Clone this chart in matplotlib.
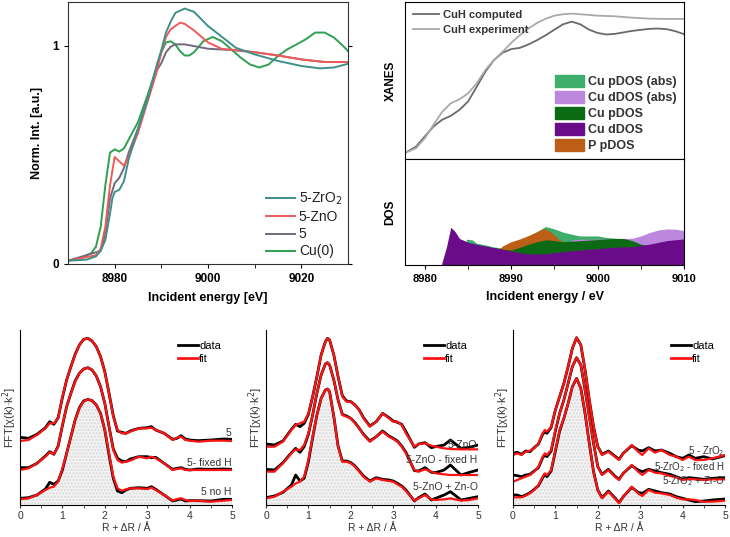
import numpy as np
import matplotlib
matplotlib.use("Agg")
import matplotlib.pyplot as plt
from matplotlib.patches import Patch
from matplotlib.lines import Line2D

plt.rcParams['font.family'] = ['Liberation Sans', 'DejaVu Sans']

# ---------------- top left: XANES of the samples ----------------
e_zro2 = [8970, 8974, 8976, 8977, 8978, 8979, 8979.5, 8980, 8981, 8982, 8983, 8985, 8987, 8989, 8990,
          8991, 8992, 8993, 8995, 8997, 9000, 9003, 9006, 9010, 9015, 9020, 9024, 9027, 9030]
y_zro2 = [0.015, 0.02, 0.035, 0.06, 0.11, 0.23, 0.30, 0.33, 0.34, 0.38, 0.48, 0.62, 0.75, 0.91, 0.98,
          1.06, 1.11, 1.15, 1.17, 1.155, 1.09, 1.04, 0.99, 0.96, 0.93, 0.907, 0.896, 0.90, 0.917]

e_zno = [8970, 8976, 8977, 8978, 8979, 8980, 8981, 8982, 8983, 8985, 8987, 8989, 8990, 8991, 8992,
         8994, 8995, 8997, 9000, 9003, 9006, 9010, 9015, 9020, 9025, 9030]
y_zno = [0.015, 0.04, 0.07, 0.17, 0.36, 0.49, 0.47, 0.45, 0.49, 0.60, 0.74, 0.88, 0.97, 1.04, 1.075,
         1.105, 1.10, 1.07, 1.015, 0.985, 0.98, 0.97, 0.955, 0.937, 0.925, 0.925]

e_5 = [8970, 8977, 8978, 8979, 8980, 8981, 8982, 8983, 8985, 8987, 8989, 8990, 8991, 8992, 8993,
       8995, 8997, 9000, 9005, 9010, 9015, 9020, 9025, 9030]
y_5 = [0.015, 0.06, 0.14, 0.30, 0.37, 0.395, 0.44, 0.51, 0.62, 0.75, 0.885, 0.92, 0.97, 0.995, 1.006,
       1.006, 0.998, 0.986, 0.98, 0.97, 0.955, 0.937, 0.925, 0.925]

e_cu = [8970, 8973, 8975, 8976, 8977, 8978, 8979, 8980, 8981, 8982, 8983, 8985, 8987, 8989, 8990,
        8991, 8992, 8993, 8994, 8995, 8996, 8997, 8999, 9001, 9003, 9005, 9007, 9009, 9011, 9013,
        9015, 9017, 9019, 9021, 9023, 9025, 9027, 9029, 9030]
y_cu = [0.015, 0.03, 0.05, 0.08, 0.17, 0.36, 0.51, 0.525, 0.515, 0.53, 0.57, 0.65, 0.77, 0.90, 0.97,
        1.015, 1.02, 1.006, 0.975, 0.955, 0.955, 0.97, 1.02, 1.04, 1.02, 0.983, 0.945, 0.914, 0.90, 0.914,
        0.953, 0.983, 1.006, 1.03, 1.06, 1.06, 1.037, 0.998, 0.975]

# ---------------- top right: CuH XANES and DOS ----------------
e_comp = [8977.7, 8979, 8980, 8981, 8982, 8983, 8984, 8985, 8986, 8987, 8988, 8989, 8990, 8991, 8992,
          8993, 8994, 8995, 8996, 8997, 8998, 8999, 9000, 9001, 9002, 9004, 9006, 9007, 9008, 9009, 9010]
y_comp = [0.038, 0.08, 0.144, 0.207, 0.25, 0.275, 0.313, 0.366, 0.46, 0.556, 0.63, 0.677, 0.70, 0.708, 0.73,
          0.757, 0.789, 0.824, 0.858, 0.875, 0.858, 0.824, 0.803, 0.793, 0.797, 0.816, 0.829, 0.831, 0.827, 0.814, 0.795]

e_exp = [8977.7, 8979, 8980, 8981, 8982, 8983, 8984, 8985, 8986, 8987, 8988, 8989, 8990, 8991, 8992,
         8993, 8994, 8995, 8996, 8997, 8998, 9000, 9002, 9004, 9006, 9008, 9010]
y_exp = [0.038, 0.07, 0.133, 0.218, 0.30, 0.355, 0.38, 0.418, 0.482, 0.567, 0.63, 0.683, 0.74, 0.789, 0.831,
         0.867, 0.894, 0.913, 0.922, 0.926, 0.922, 0.913, 0.909, 0.90, 0.894, 0.892, 0.892]

e_cud = [8977.7, 8981.9, 8982.5, 8983, 8983.5, 8984, 8985, 8986, 8988, 8990, 8991, 8992, 8994, 8996, 8998,
         9000, 9002, 9004, 9006, 9008, 9010]
dos_cud = [0, 0, 0.17, 0.356, 0.315, 0.25, 0.215, 0.196, 0.164, 0.132, 0.117, 0.104, 0.107, 0.126, 0.142,
           0.155, 0.167, 0.173, 0.196, 0.23, 0.246]

e_cup = [8988, 8989, 8990, 8991, 8992, 8993, 8994, 8995, 8996, 8998, 9000, 9002, 9003, 9004, 9005, 9006]
dos_cup = [0.164, 0.148, 0.142, 0.167, 0.196, 0.22, 0.237, 0.23, 0.22, 0.23, 0.24, 0.252, 0.25, 0.23, 0.196, 0.183]

e_pp = [8988.5, 8989, 8990, 8991, 8992, 8993, 8993.8, 8994.5, 8995, 8995.5, 8996]
dos_pp = [0.142, 0.18, 0.22, 0.246, 0.278, 0.315, 0.347, 0.315, 0.284, 0.243, 0.22]

e_cup_abs = [8984.8, 8985.5, 8986, 8987, 8988, 8989, 8990, 8992, 8994, 8995, 8996, 8997, 8998, 9000, 9001, 9002]
dos_cup_abs = [0.243, 0.237, 0.205, 0.19, 0.17, 0.16, 0.20, 0.27, 0.363, 0.34, 0.31, 0.29, 0.274, 0.274, 0.26, 0.252]

e_cud_abs = [8997, 8998, 9000, 9002, 9004, 9005, 9006, 9007, 9008, 9009, 9010]
dos_cud_abs = [0.237, 0.243, 0.243, 0.25, 0.252, 0.274, 0.306, 0.33, 0.34, 0.338, 0.325]

# ---------------- bottom: EXAFS fits ----------------
r_a = [0, 0.2, 0.4, 0.6, 0.7, 0.8, 0.9, 1.0, 1.1, 1.2, 1.3, 1.4, 1.5, 1.6, 1.7, 1.8, 1.9, 2.0, 2.1, 2.2,
       2.3, 2.4, 2.5, 2.6, 2.8, 3.0, 3.1, 3.2, 3.4, 3.6, 3.7, 3.8, 3.9, 4.0, 4.2, 4.5, 4.8, 5.0]
fit_a1 = [1.92, 1.95, 2.10, 2.30, 2.45, 2.45, 2.60, 3.25, 3.75, 4.15, 4.50, 4.80, 4.97, 5.00, 4.93, 4.75, 4.45, 4.00, 3.35, 2.65,
          2.25, 2.15, 2.15, 2.20, 2.30, 2.30, 2.32, 2.25, 2.15, 1.95, 2.02, 2.05, 1.95, 1.93, 1.90, 1.93, 1.93, 1.92]
dat_a1 = [2.03, 2.00, 2.12, 2.32, 2.50, 2.42, 2.62, 3.22, 3.75, 4.15, 4.52, 4.80, 4.97, 5.00, 4.92, 4.75, 4.45, 4.00, 3.35, 2.68,
          2.22, 2.18, 2.15, 2.22, 2.30, 2.32, 2.35, 2.25, 2.15, 1.97, 2.00, 2.08, 1.98, 1.95, 1.93, 1.95, 1.98, 1.97]
fit_a2 = [1.05, 1.10, 1.25, 1.45, 1.58, 1.53, 1.75, 2.40, 2.95, 3.35, 3.70, 3.95, 4.08, 4.12, 4.05, 3.87, 3.55, 3.05, 2.35, 1.65,
          1.35, 1.27, 1.30, 1.33, 1.45, 1.40, 1.45, 1.40, 1.25, 1.05, 1.08, 1.10, 1.05, 1.05, 1.05, 1.05, 1.05, 1.05]
dat_a2 = [1.12, 1.12, 1.25, 1.47, 1.60, 1.52, 1.77, 2.38, 2.95, 3.35, 3.72, 3.95, 4.08, 4.12, 4.05, 3.87, 3.55, 3.05, 2.35, 1.68,
          1.40, 1.32, 1.30, 1.38, 1.45, 1.45, 1.42, 1.43, 1.25, 1.07, 1.10, 1.12, 1.07, 1.05, 1.08, 1.07, 1.08, 1.07]
fit_a3 = [0.17, 0.20, 0.30, 0.45, 0.52, 0.55, 0.70, 1.10, 1.55, 2.05, 2.55, 2.90, 3.10, 3.17, 3.13, 3.00, 2.75, 2.25, 1.55, 0.85,
          0.50, 0.43, 0.47, 0.50, 0.50, 0.48, 0.52, 0.45, 0.30, 0.13, 0.18, 0.20, 0.15, 0.12, 0.13, 0.10, 0.13, 0.15]
dat_a3 = [0.20, 0.22, 0.30, 0.48, 0.68, 0.62, 0.72, 1.05, 1.55, 2.05, 2.55, 2.92, 3.12, 3.17, 3.13, 3.00, 2.75, 2.25, 1.50, 0.80,
          0.42, 0.37, 0.45, 0.50, 0.52, 0.50, 0.55, 0.47, 0.30, 0.12, 0.15, 0.18, 0.12, 0.13, 0.13, 0.12, 0.17, 0.17]

r_b = [0, 0.2, 0.4, 0.6, 0.7, 0.8, 0.9, 1.0, 1.1, 1.2, 1.3, 1.4, 1.45, 1.5, 1.6, 1.7, 1.8, 1.9, 2.0, 2.1,
       2.2, 2.3, 2.45, 2.6, 2.75, 2.9, 3.0, 3.1, 3.2, 3.3, 3.5, 3.6, 3.75, 3.9, 4.0, 4.2, 4.35, 4.6, 4.8, 5.0]
fit_b1 = [1.75, 1.75, 1.90, 2.25, 2.40, 2.45, 2.50, 2.75, 3.25, 3.85, 4.50, 4.90, 5.00, 4.95, 4.50, 3.85, 3.25, 3.10, 3.10, 3.00,
          2.85, 2.60, 2.35, 2.50, 2.75, 2.60, 2.50, 2.50, 2.40, 2.15, 1.75, 1.83, 1.85, 1.78, 1.75, 1.70, 1.68, 1.67, 1.67, 1.67]
dat_b1 = [1.83, 1.80, 1.92, 2.27, 2.42, 2.35, 2.45, 2.72, 3.25, 3.85, 4.50, 4.90, 5.00, 4.95, 4.50, 3.85, 3.28, 3.12, 3.10, 3.00,
          2.85, 2.62, 2.37, 2.50, 2.75, 2.62, 2.52, 2.48, 2.42, 2.20, 1.73, 1.83, 1.87, 1.72, 1.75, 1.80, 1.95, 1.70, 1.73, 1.80]
fit_b2 = [1.00, 1.00, 1.25, 1.55, 1.67, 1.65, 1.80, 2.15, 2.70, 3.35, 3.90, 4.23, 4.27, 4.20, 3.75, 3.15, 2.70, 2.65, 2.60, 2.45,
          2.30, 2.10, 1.90, 2.05, 2.20, 2.05, 1.98, 1.90, 1.75, 1.55, 1.05, 1.00, 1.07, 1.00, 0.95, 0.92, 0.90, 0.90, 0.90, 0.90]
dat_b2 = [1.07, 1.05, 1.27, 1.57, 1.70, 1.58, 1.75, 2.12, 2.70, 3.35, 3.90, 4.23, 4.27, 4.20, 3.75, 3.15, 2.72, 2.67, 2.60, 2.47,
          2.30, 2.12, 1.92, 2.05, 2.22, 2.07, 2.00, 1.92, 1.77, 1.58, 1.03, 1.02, 1.12, 0.98, 0.97, 1.05, 1.20, 0.90, 0.98, 1.05]
fit_b3 = [0.20, 0.25, 0.40, 0.55, 0.65, 0.70, 0.85, 1.35, 2.05, 2.70, 3.20, 3.45, 3.48, 3.40, 2.65, 1.75, 1.30, 1.30, 1.25, 1.15,
          1.00, 0.85, 0.70, 0.80, 0.75, 0.72, 0.70, 0.62, 0.55, 0.42, 0.13, 0.20, 0.30, 0.17, 0.15, 0.17, 0.20, 0.13, 0.15, 0.20]
dat_b3 = [0.22, 0.27, 0.38, 0.60, 0.90, 0.72, 0.80, 1.30, 2.02, 2.70, 3.20, 3.45, 3.48, 3.40, 2.65, 1.77, 1.32, 1.32, 1.27, 1.17,
          1.02, 0.87, 0.72, 0.82, 0.77, 0.75, 0.72, 0.65, 0.57, 0.45, 0.12, 0.22, 0.33, 0.15, 0.20, 0.30, 0.40, 0.15, 0.20, 0.25]

r_c = [0, 0.1, 0.2, 0.3, 0.4, 0.5, 0.6, 0.7, 0.75, 0.8, 0.9, 1.0, 1.1, 1.2, 1.3, 1.4, 1.5, 1.6, 1.7, 1.8,
       1.9, 2.0, 2.1, 2.25, 2.4, 2.5, 2.6, 2.8, 2.95, 3.05, 3.2, 3.35, 3.5, 3.7, 3.85, 4.0, 4.15, 4.3, 4.5, 4.7, 5.0]
fit_c1 = [1.50, 1.55, 1.50, 1.60, 1.63, 1.70, 1.85, 2.15, 2.25, 2.20, 2.35, 2.85, 3.25, 3.65, 4.15, 4.70, 5.02, 4.80, 4.05, 3.15,
          2.35, 1.75, 1.50, 1.60, 1.45, 1.35, 1.55, 1.80, 1.60, 1.50, 1.70, 1.57, 1.65, 1.50, 1.45, 1.35, 1.45, 1.35, 1.35, 1.40, 1.50]
dat_c1 = [1.55, 1.58, 1.52, 1.62, 1.60, 1.72, 1.83, 2.12, 2.20, 2.15, 2.33, 2.85, 3.25, 3.65, 4.15, 4.70, 5.02, 4.80, 4.05, 3.15,
          2.35, 1.75, 1.52, 1.62, 1.47, 1.37, 1.55, 1.78, 1.65, 1.62, 1.72, 1.62, 1.65, 1.55, 1.45, 1.40, 1.50, 1.40, 1.45, 1.38, 1.48]
fit_c2 = [0.70, 0.75, 0.80, 0.85, 0.90, 1.00, 1.15, 1.45, 1.55, 1.50, 1.65, 2.25, 2.75, 3.15, 3.65, 4.15, 4.42, 4.20, 3.45, 2.65,
          1.85, 1.15, 0.90, 1.05, 0.85, 0.75, 0.95, 1.20, 1.00, 0.90, 1.05, 0.97, 0.95, 0.87, 0.83, 0.75, 0.78, 0.77, 0.75, 0.77, 0.77]
dat_c2 = [0.90, 0.88, 0.85, 0.90, 0.92, 1.02, 1.12, 1.42, 1.50, 1.45, 1.62, 2.22, 2.75, 3.15, 3.65, 4.15, 4.42, 4.20, 3.45, 2.65,
          1.85, 1.15, 0.92, 1.07, 0.87, 0.77, 0.95, 1.18, 1.05, 1.00, 1.07, 1.02, 0.97, 0.92, 0.85, 0.78, 0.82, 0.80, 0.77, 0.80, 0.82]
fit_c3 = [0.23, 0.23, 0.23, 0.28, 0.35, 0.45, 0.60, 0.85, 0.95, 0.90, 1.05, 1.65, 2.25, 2.60, 3.05, 3.55, 3.80, 3.50, 2.75, 1.85,
          1.00, 0.45, 0.20, 0.40, 0.20, 0.05, 0.25, 0.55, 0.35, 0.27, 0.45, 0.37, 0.35, 0.30, 0.22, 0.17, 0.17, 0.15, 0.10, 0.10, 0.13]
dat_c3 = [0.30, 0.30, 0.25, 0.30, 0.37, 0.47, 0.58, 0.82, 0.92, 0.85, 1.02, 1.62, 2.22, 2.60, 3.05, 3.55, 3.80, 3.50, 2.75, 1.85,
          1.00, 0.45, 0.22, 0.42, 0.22, 0.07, 0.25, 0.53, 0.38, 0.35, 0.47, 0.42, 0.37, 0.33, 0.25, 0.20, 0.15, 0.10, 0.12, 0.15, 0.18]

labels_a = ["5", "5- fixed H", "5 no H"]
labels_b = ["5-ZnO", "5-ZnO - fixed H", "5-ZnO + Zn-O"]
labels_c = ["5 - ZrO$_2$", "5-ZrO$_2$ - fixed H", "5-ZrO$_2$ + Zr-O"]
label_y_a = [2.15, 1.25, 0.40]
label_y_b = [1.80, 1.35, 0.53]
label_y_c = [1.62, 1.15, 0.72]

W, H = 730, 537
fig = plt.figure(figsize=(W / 100, H / 100), dpi=100)


def box(x0, y0, x1, y1):
    return [x0 / W, 1 - y1 / H, (x1 - x0) / W, (y1 - y0) / H]


# top left
ax1 = fig.add_axes(box(68, 2, 348, 264))
ax1.plot(e_cu, y_cu, color='#2ea04e', lw=1.4, label='Cu(0)')
ax1.plot(e_5, y_5, color='#6e6a7c', lw=1.4, label='5')
ax1.plot(e_zno, y_zno, color='#f25a5a', lw=1.4, label='5-ZnO')
ax1.plot(e_zro2, y_zro2, color='#3f8f8c', lw=1.4, label='5-ZrO$_2$')
ax1.set_xlim(8970, 9030)
ax1.set_ylim(0, 1.2)
ax1.set_xticks([8980, 9000, 9020])
ax1.set_xticks([8990, 9010], minor=True)
ax1.set_yticks([0, 1])
ax1.set_yticklabels(['0', '1'])
ax1.tick_params(direction='out', length=3, labelsize=8.5, right=True, width=0.8)
ax1.tick_params(which='minor', direction='out', length=3)
for t in ax1.get_xticklabels() + ax1.get_yticklabels():
    t.set_fontweight('bold')
ax1.set_xlabel('Incident energy [eV]', fontsize=9, fontweight='bold', labelpad=5)
ax1.set_ylabel('Norm. Int. [a.u.]', fontsize=9, fontweight='bold', labelpad=7)
h, l = ax1.get_legend_handles_labels()
leg0 = ax1.legend(h[::-1], l[::-1], loc='lower right', frameon=False, handlelength=2.1,
                  labelspacing=0.22, borderaxespad=0.0, handletextpad=0.3,
                  prop={'size': 10})
for t in leg0.get_texts():
    t.set_color('#222222')
for s in ax1.spines.values():
    s.set_color('#333333')

# top right XANES
ax2 = fig.add_axes(box(405, 2, 684, 159))
ax2.plot(e_comp, y_comp, color='#6a6a6a', lw=1.3, label='CuH computed')
ax2.plot(e_exp, y_exp, color='#a9a9a9', lw=1.3, label='CuH experiment')
ax2.set_xlim(8977.7, 9010)
ax2.set_ylim(0, 1)
ax2.set_yticks([])
ax2.set_xticks([8980, 8990, 9000, 9010])
ax2.set_xticks([8985, 8995, 9005], minor=True)
ax2.tick_params(axis='x', which='both', direction='out', length=3, labelbottom=False)
ax2.set_ylabel('XANES', fontsize=8.5, fontweight='bold', labelpad=6)
leg1 = ax2.legend(loc='upper left', frameon=False, handlelength=2.3,
                  labelspacing=0.4, borderaxespad=0.35, handletextpad=0.4,
                  prop={'weight': 'bold', 'size': 8})
for t in leg1.get_texts():
    t.set_color('#333333')
ax2.add_artist(leg1)
c_cup_abs, c_cud_abs, c_cup, c_cud, c_pp = '#3daf6a', '#bb88dd', '#0c6a14', '#6a0c8a', '#bc5e16'
patches = [Patch(color=c_cup_abs, label='Cu pDOS (abs)'), Patch(color=c_cud_abs, label='Cu dDOS (abs)'),
           Patch(color=c_cup, label='Cu pDOS'), Patch(color=c_cud, label='Cu dDOS'),
           Patch(color=c_pp, label='P pDOS')]
leg2 = ax2.legend(handles=patches, loc='lower right', frameon=False, handlelength=2.3, handleheight=1.1,
                  labelspacing=0.22, borderaxespad=0.15, handletextpad=0.4,
                  prop={'weight': 'bold', 'size': 9})
for t in leg2.get_texts():
    t.set_color('#333333')

# top right DOS
ax3 = fig.add_axes(box(405, 159, 684, 265))
ax3.fill_between(e_cup_abs, dos_cup_abs, 0, color=c_cup_abs, lw=0)
ax3.fill_between(e_cud_abs, dos_cud_abs, 0, color=c_cud_abs, lw=0)
ax3.fill_between(e_pp, dos_pp, 0, color=c_pp, lw=0)
ax3.fill_between(e_cup, dos_cup, 0, color=c_cup, lw=0)
ax3.fill_between(e_cud, dos_cud, 0, color=c_cud, lw=0)
ax3.set_xlim(8977.7, 9010)
ax3.set_ylim(0, 1)
ax3.set_yticks([])
ax3.set_xticks([8980, 8990, 9000, 9010])
ax3.set_xticks([8985, 8995, 9005], minor=True)
ax3.tick_params(axis='x', which='both', direction='out', length=3, labelsize=8)
for t in ax3.get_xticklabels():
    t.set_fontweight('bold')
ax3.set_ylabel('DOS', fontsize=8.5, fontweight='bold', labelpad=6)
ax3.set_xlabel('Incident energy / eV', fontsize=9, fontweight='bold', labelpad=5)

# bottom EXAFS panels
panels = [
    (box(20, 330, 232, 505), r_a, [dat_a1, dat_a2, dat_a3], [fit_a1, fit_a2, fit_a3], labels_a, label_y_a, 7.5),
    (box(266, 330, 478, 505), r_b, [dat_b1, dat_b2, dat_b3], [fit_b1, fit_b2, fit_b3], labels_b, label_y_b, 7.5),
    (box(513, 330, 725, 505), r_c, [dat_c1, dat_c2, dat_c3], [fit_c1, fit_c2, fit_c3], labels_c, label_y_c, 7),
]
for rect, r, dats, fits, labs, laby, fs in panels:
    ax = fig.add_axes(rect)
    ax.fill_between(r, fits[2], 0, facecolor='#f3f3f3', edgecolor='#d8d8d8', hatch='.....', lw=0)
    for d, f in zip(dats, fits):
        ax.plot(r, d, color='black', lw=2.0)
        ax.plot(r, f, color='#ff1414', lw=1.6)
    for lab, y in zip(labs, laby):
        ax.text(4.99, y, lab, ha='right', va='center', fontsize=fs, color='#333333')
    ax.set_xlim(0, 5)
    ax.set_ylim(0, 5.25)
    ax.set_yticks([])
    ax.set_xticks([0, 1, 2, 3, 4, 5])
    ax.set_xticks(np.arange(0.5, 5, 1), minor=True)
    ax.tick_params(axis='x', which='both', direction='out', length=2.5, labelsize=7.5, pad=2, colors='#333333')
    ax.spines['top'].set_visible(False)
    ax.spines['right'].set_visible(False)
    ax.set_xlabel('R + ΔR / Å', fontsize=7.5, color='#333333', labelpad=1)
    ax.set_ylabel('FFT[χ(k)·k$^2$]', fontsize=8, color='#333333', labelpad=0.5)
    hl = [Line2D([0], [0], color='black', lw=2), Line2D([0], [0], color='#ff1414', lw=2)]
    ax.legend(hl, ['data', 'fit'], loc='upper right', frameon=False, fontsize=8, handlelength=1.8,
              labelspacing=0.25, borderaxespad=0.6, handletextpad=0.1)

fig.savefig('out.png', dpi=100)
